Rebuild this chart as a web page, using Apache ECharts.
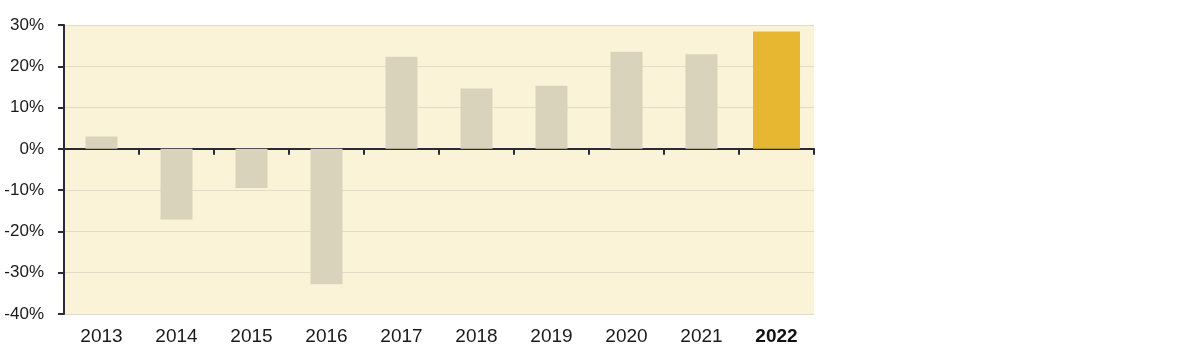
<!DOCTYPE html>
<html>
<head>
<meta charset="utf-8">
<script src="https://cdn.jsdelivr.net/npm/echarts@6/dist/echarts.min.js"></script>
<style>
html,body{margin:0;padding:0;background:#fff;}
#chart{width:1181px;height:351px;}
</style>
</head>
<body>
<div id="chart"></div>
<script>
const categories = ['2013','2014','2015','2016','2017','2018','2019','2020','2021','2022'];
const pastValues = [3.0, -17.1, -9.5, -32.8, 22.3, 14.6, 15.3, 23.5, 22.9, null];
const highlightValues = [null, null, null, null, null, null, null, null, null, 28.4];
const highlightCategory = '2022';
const yTicks = { min: -40, max: 30, interval: 10 };

const chart = echarts.init(document.getElementById('chart'), null, {renderer: 'canvas'});
const font = 'Liberation Sans, Arial, sans-serif';
chart.setOption({
  animation: false,
  grid: {
    left: 64, right: 367, top: 25, bottom: 37,
    show: true, backgroundColor: '#FBF3D7', borderWidth: 0
  },
  xAxis: [
    {
      type: 'category', data: categories, position: 'bottom',
      axisLine: { show: false, onZero: false }, axisTick: { show: false },
      axisLabel: {
        interval: 0, margin: 13, fontFamily: font, fontSize: 19, color: '#1a1a1a',
        formatter: v => v === highlightCategory ? '{b|' + v + '}' : v,
        rich: { b: { fontFamily: font, fontSize: 19, fontWeight: 'bold', color: '#111' } }
      },
      splitLine: { show: false }
    },
    {
      type: 'category', data: categories, position: 'top',
      axisLine: { show: true, onZero: true, lineStyle: { color: '#2a2a38', width: 2 } },
      axisTick: { show: true, inside: true, interval: 0, length: 6, lineStyle: { color: '#2a2a38', width: 2 } },
      axisLabel: { show: false },
      splitLine: { show: false }
    }
  ],
  yAxis: {
    type: 'value', min: yTicks.min, max: yTicks.max, interval: yTicks.interval,
    axisLine: { show: true, lineStyle: { color: '#2a2a38', width: 2 } },
    axisTick: { show: true, length: 6, lineStyle: { color: '#2a2a38', width: 2 } },
    axisLabel: { formatter: '{value}%', margin: 20, fontFamily: font, fontSize: 17, color: '#1a1a1a' },
    splitLine: { show: true, lineStyle: { color: '#E2DBC6', width: 1 } }
  },
  series: [
    {
      type: 'bar', xAxisIndex: 0, data: pastValues, barWidth: 32,
      itemStyle: { color: '#D9D3BB' }
    },
    {
      type: 'bar', xAxisIndex: 1, data: highlightValues, barWidth: 47,
      itemStyle: { color: '#E8B731' }
    }
  ]
});
</script>
</body>
</html>
